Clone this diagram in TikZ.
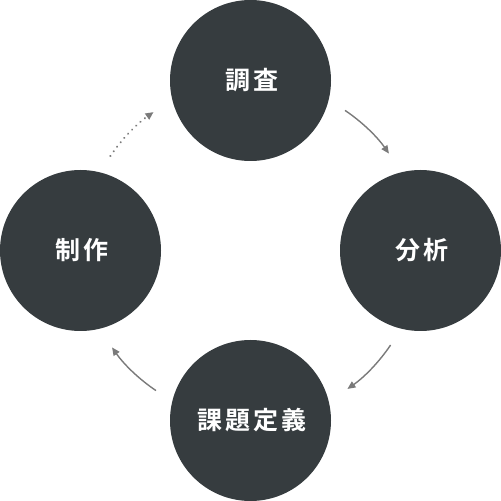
\documentclass[tikz,border=0pt]{standalone}
\usepackage{fontspec}
\usetikzlibrary{arrows.meta}
\newfontfamily\cjk{Noto Sans CJK JP Bold}[LetterSpace=12]
\definecolor{discfill}{HTML}{363C3F}
\definecolor{arrgray}{HTML}{7A7A7A}
\tikzset{
  disc/.style={circle,fill=discfill,minimum size=161pt,inner sep=0pt,text=white,font=\cjk\fontsize{25pt}{27pt}\selectfont},
  arr/.style={draw=arrgray,line width=1.4pt,-{Triangle[length=8pt,width=7pt]}},
  dotarr/.style={arr,line cap=round,dash pattern=on 0.1pt off 5.6pt,line width=2.2pt}
}
\begin{document}
\begin{tikzpicture}[x=1pt,y=1pt]
\useasboundingbox (0,0) rectangle (501,501);
\coordinate (c) at (250.5,250.5);
\node[disc] (top) at (250.5,420.5) {\hspace*{3pt}調査};
\node[disc] (right) at (420.5,250.5) {\hspace*{3pt}分析};
\node[disc] (bottom) at (250.5,80.5) {\hspace*{3pt}課題定義};
\node[disc] (left) at (80.5,250.5) {\hspace*{3pt}制作};
\draw[arr] (c) ++(56:169) arc[start angle=56,end angle=35,radius=169];
\draw[arr] (c) ++(-34:169) arc[start angle=-34,end angle=-55,radius=169];
\draw[arr] (c) ++(-124:169) arc[start angle=-124,end angle=-145,radius=169];
\draw[dotarr] (c) ++(146:169) arc[start angle=146,end angle=125,radius=169];
\end{tikzpicture}
\end{document}
